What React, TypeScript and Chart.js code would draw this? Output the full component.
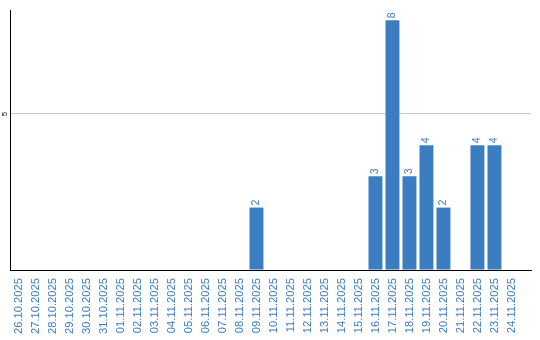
import React, { useEffect, useRef } from "react";
import { Chart, registerables } from "chart.js";

Chart.register(...registerables);

const categories: string[] = [
  "26.10.2025", "27.10.2025", "28.10.2025", "29.10.2025", "30.10.2025", "31.10.2025",
  "01.11.2025", "02.11.2025", "03.11.2025", "04.11.2025", "05.11.2025", "06.11.2025",
  "07.11.2025", "08.11.2025", "09.11.2025", "10.11.2025", "11.11.2025", "12.11.2025",
  "13.11.2025", "14.11.2025", "15.11.2025", "16.11.2025", "17.11.2025", "18.11.2025",
  "19.11.2025", "20.11.2025", "21.11.2025", "22.11.2025", "23.11.2025", "24.11.2025",
];

const values: number[] = [
  0, 0, 0, 0, 0, 0,
  0, 0, 0, 0, 0, 0,
  0, 0, 2, 0, 0, 0,
  0, 0, 0, 3, 8, 3,
  4, 2, 0, 4, 4, 0,
];

const yTickValues: number[] = [5];

const BAR_COLOR = "#3b7dc1";
const LABEL_COLOR = "#3a7cc2";
const FONT = '"Liberation Sans", Arial, sans-serif';

const labelPlugin = {
  id: "valueLabels",
  afterDatasetsDraw(chart: any) {
    const ctx = chart.ctx;
    const meta = chart.getDatasetMeta(0);
    ctx.save();
    ctx.font = `10.5px ${FONT}`;
    ctx.fillStyle = LABEL_COLOR;
    meta.data.forEach((bar: any, i: number) => {
      const v = values[i];
      if (!v) return;
      ctx.save();
      ctx.translate(bar.x, bar.y - 2);
      ctx.rotate(-Math.PI / 2);
      ctx.textAlign = "left";
      ctx.textBaseline = "middle";
      ctx.fillText(String(v), 0, 0);
      ctx.restore();
    });
    const y = chart.scales.y;
    ctx.font = `8px ${FONT}`;
    ctx.fillStyle = "#000";
    yTickValues.forEach((t) => {
      ctx.save();
      ctx.translate(chart.chartArea.left - 5, y.getPixelForValue(t));
      ctx.rotate(-Math.PI / 2);
      ctx.textAlign = "center";
      ctx.textBaseline = "middle";
      ctx.fillText(String(t), 0, 0);
      ctx.restore();
    });
    ctx.restore();
  },
};

export default function App() {
  const ref = useRef<HTMLCanvasElement | null>(null);
  useEffect(() => {
    if (!ref.current) return;
    const chart = new Chart(ref.current, {
      type: "bar",
      data: {
        labels: categories,
        datasets: [
          {
            data: values,
            backgroundColor: BAR_COLOR,
            borderWidth: 0,
            categoryPercentage: 1,
            barPercentage: 0.82,
          },
        ],
      },
      options: {
        responsive: false,
        animation: false,
        plugins: { legend: { display: false }, tooltip: { enabled: false } },
        layout: { padding: { top: 10, right: 9, left: 10, bottom: 1 } },
        scales: {
          x: {
            afterBuildTicks: (scale: any) => {
              scale._valueRange = 30.65;
            },
            afterFit: (scale: any) => {
              scale.height -= 3;
            },
            grid: { display: false, drawTicks: false },
            border: { display: true, color: "#000", width: 1 },
            ticks: {
              autoSkip: false,
              minRotation: 90,
              maxRotation: 90,
              padding: 8,
              color: LABEL_COLOR,
              font: { family: FONT, size: 11.2 },
            },
          },
          y: {
            min: 0,
            max: 8.33,
            ticks: { display: false, stepSize: 5, includeBounds: false },
            grid: {
              drawTicks: false,
              color: (c: any) => (c.tick && yTickValues.includes(c.tick.value) ? "#c8c8c8" : "rgba(0,0,0,0)"),
            },
            border: { display: true, color: "#000", width: 1 },
          },
        },
      },
      plugins: [labelPlugin],
    });
    return () => chart.destroy();
  }, []);
  return (
    <canvas
      ref={ref}
      width={540}
      height={340}
      style={{ position: "fixed", left: 0, top: 0, display: "block", background: "#fff" }}
    />
  );
}
